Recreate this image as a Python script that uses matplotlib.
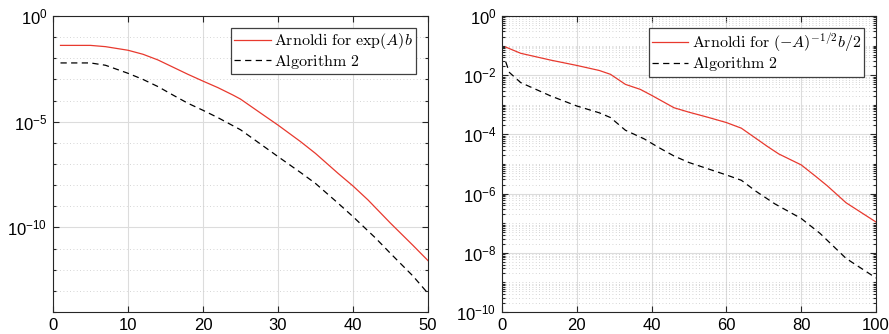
import numpy as np
import matplotlib
matplotlib.use("Agg")
import matplotlib.pyplot as plt
from matplotlib.ticker import FixedLocator, LogFormatterSciNotation, NullFormatter

plt.rcParams['font.family'] = ['Liberation Sans', 'DejaVu Sans']
plt.rcParams['mathtext.fontset'] = 'cm'

# left panel: exp(A)b, values as log10 of the error
x_exp = [1, 3, 5, 7, 10, 12, 14, 16, 18, 20, 22, 24, 25, 28, 30, 33, 35, 38, 40, 42, 45, 48, 50]
arnoldi_exp = [-1.39, -1.39, -1.39, -1.45, -1.62, -1.81, -2.08, -2.42, -2.76, -3.08, -3.39,
               -3.74, -3.93, -4.67, -5.16, -5.94, -6.50, -7.44, -8.04, -8.70, -9.80, -10.85,
               -11.57]
x_exp2 = [1, 3, 5, 7, 10, 12, 14, 16, 18, 20, 22, 25, 28, 30, 33, 35, 38, 40, 43, 45, 48, 50]
alg2_exp = [-2.22, -2.22, -2.22, -2.33, -2.71, -3.00, -3.34, -3.74, -4.13, -4.46, -4.81,
            -5.38, -6.14, -6.65, -7.40, -7.92, -8.85, -9.49, -10.50, -11.23, -12.30, -13.12]

# right panel: (-A)^{-1/2} b / 2
x_sqrt = [1, 5, 13, 20, 26, 29, 33, 37, 40, 46, 50, 55, 60, 64, 71, 74, 80, 84, 87, 92, 100]
arnoldi_sqrt = [-1.05, -1.26, -1.49, -1.67, -1.84, -1.97, -2.31, -2.48, -2.68, -3.10, -3.25,
                -3.42, -3.60, -3.79, -4.41, -4.66, -5.03, -5.43, -5.74, -6.31, -6.96]
x_sqrt2 = [1, 2, 5, 13, 20, 26, 29, 33, 38, 42, 46, 50, 55, 60, 64, 68, 73, 80, 85, 92, 100]
alg2_sqrt = [-1.55, -1.91, -2.25, -2.70, -3.04, -3.27, -3.43, -3.86, -4.15, -4.45, -4.73,
             -4.95, -5.16, -5.37, -5.55, -5.93, -6.35, -6.84, -7.34, -8.19, -8.85]

red = '#e8392e'
W, H = 889, 334
fig = plt.figure(figsize=(W / 100, H / 100), dpi=100)
ax1 = fig.add_axes([53 / W, 22 / H, 375 / W, 296 / H])
ax2 = fig.add_axes([502 / W, 22 / H, 374 / W, 296 / H])


def style(ax):
    ax.tick_params(which='both', direction='in', top=True, right=True, labelsize=12,
                   color='#262626', width=0.8, pad=4)
    ax.tick_params(which='major', length=4)
    ax.tick_params(which='minor', length=2.5)
    ax.tick_params(axis='x', which='minor', top=False, bottom=False)
    for s in ax.spines.values():
        s.set_color('#262626')
        s.set_linewidth(0.8)
    ax.grid(which='major', color='#dcdcdc', linewidth=0.8, linestyle='-')
    ax.grid(which='minor', axis='y', color='#c8c8c8', linewidth=0.6, linestyle=(0, (1, 3)))
    ax.set_axisbelow(True)


def add_legend(ax):
    leg = ax.legend(loc='upper right', fontsize=11.5, frameon=True, fancybox=False,
                    edgecolor='#404040', framealpha=1, handlelength=2.3, handletextpad=0.2,
                    borderpad=0.2, labelspacing=0.1, borderaxespad=0.75)
    leg.get_frame().set_linewidth(0.9)


# left
ax1.semilogy(x_exp, 10.0 ** np.array(arnoldi_exp), color=red, lw=0.9,
             label=r'$\mathrm{Arnoldi\ for\ }\exp(A)b$')
ax1.semilogy(x_exp2, 10.0 ** np.array(alg2_exp), color='black', lw=0.9, dashes=(5, 3.5),
             label=r'$\mathrm{Algorithm\ 2}$')
ax1.set_xlim(0, 50)
ax1.set_ylim(1e-14, 1)
ax1.set_xticks([0, 10, 20, 30, 40, 50])
ax1.yaxis.set_major_locator(FixedLocator([1e-10, 1e-5, 1e0]))
ax1.yaxis.set_minor_locator(FixedLocator([10.0 ** k for k in range(-14, 1)]))
ax1.yaxis.set_major_formatter(LogFormatterSciNotation())
ax1.yaxis.set_minor_formatter(NullFormatter())
style(ax1)
add_legend(ax1)

# right
ax2.semilogy(x_sqrt, 10.0 ** np.array(arnoldi_sqrt), color=red, lw=0.9,
             label=r'$\mathrm{Arnoldi\ for\ }(-A)^{-1/2}b/2$')
ax2.semilogy(x_sqrt2, 10.0 ** np.array(alg2_sqrt), color='black', lw=0.9, dashes=(5, 3.5),
             label=r'$\mathrm{Algorithm\ 2}$')
ax2.set_xlim(0, 100)
ax2.set_ylim(1e-10, 1)
ax2.set_xticks([0, 20, 40, 60, 80, 100])
ax2.yaxis.set_major_locator(FixedLocator([10.0 ** k for k in range(-10, 1, 2)]))
ax2.yaxis.set_minor_locator(FixedLocator([m * 10.0 ** k for k in range(-10, 0) for m in range(2, 10)]
                                         + [10.0 ** k for k in range(-9, 0, 2)]))
ax2.yaxis.set_major_formatter(LogFormatterSciNotation())
ax2.yaxis.set_minor_formatter(NullFormatter())
style(ax2)
add_legend(ax2)

fig.savefig('out.png', dpi=100)
